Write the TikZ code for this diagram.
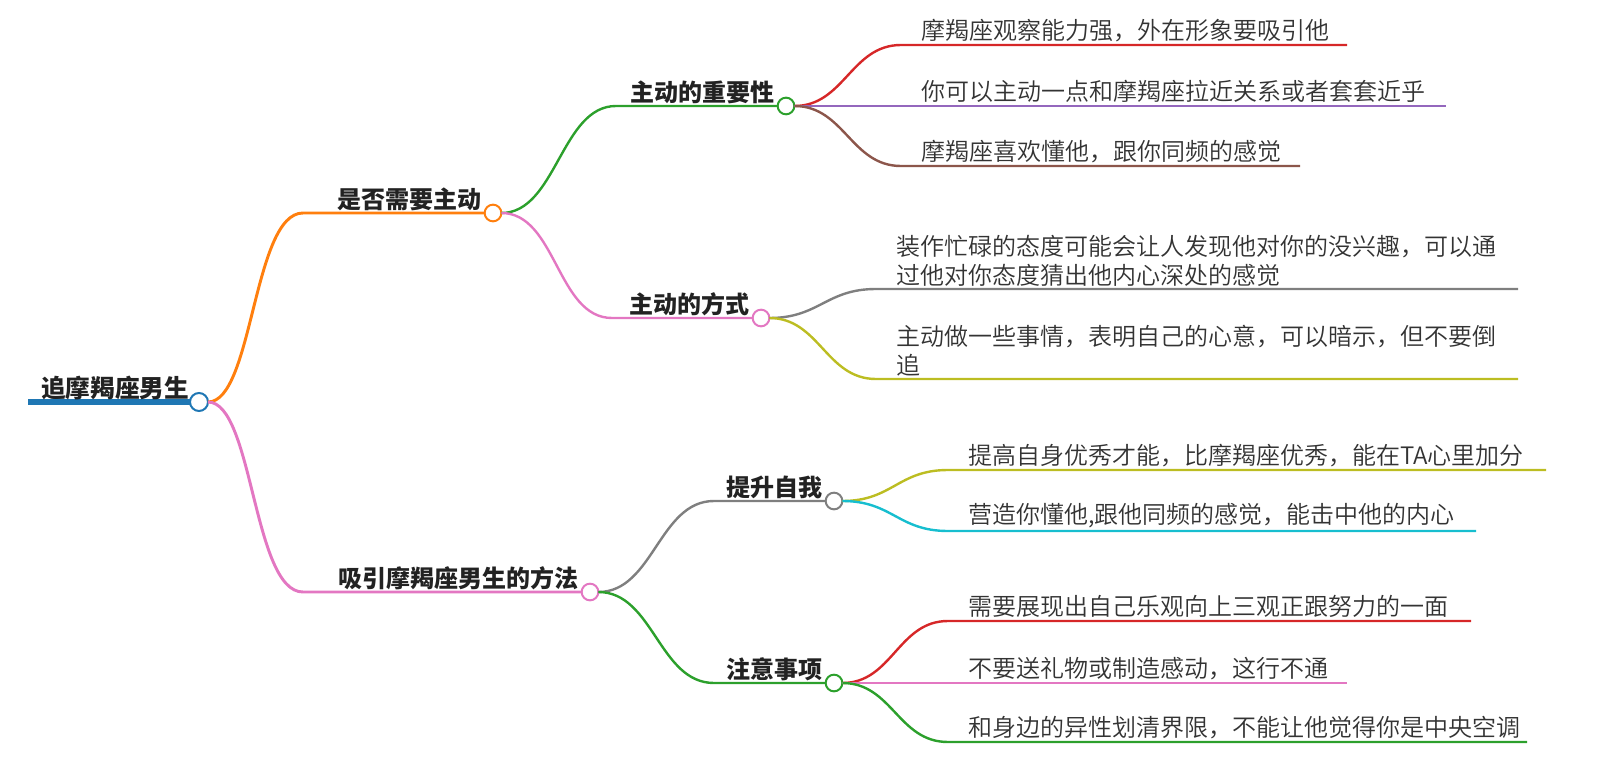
\documentclass[tikz,border=0pt]{standalone}
\usepackage{fontspec}
\setmainfont{Noto Sans CJK SC DemiLight}[BoldFont={Noto Sans CJK SC Black}]
\definecolor{cblue}{HTML}{1F77B4}
\definecolor{corange}{HTML}{FF7F0E}
\definecolor{cgreen}{HTML}{2CA02C}
\definecolor{cred}{HTML}{D62728}
\definecolor{cpurple}{HTML}{9467BD}
\definecolor{cbrown}{HTML}{8C564B}
\definecolor{cpink}{HTML}{E377C2}
\definecolor{cgray}{HTML}{7F7F7F}
\definecolor{colive}{HTML}{BCBD22}
\definecolor{ccyan}{HTML}{17BECF}
\definecolor{ctext}{HTML}{333333}
\definecolor{chead}{HTML}{222222}
\begin{document}
\begin{tikzpicture}[x=0.75pt,y=-0.75pt,
  every node/.style={inner sep=0pt,outer sep=0pt},
  dot/.style={circle,draw=#1,fill=white,line width=1.5pt,minimum size=12.5pt},
  link/.style={draw=#1,line width=1.8pt},
  head/.style={font=\fontsize{18pt}{21.75pt}\selectfont\bfseries,text=chead,anchor=south east},
  leaf/.style={font=\fontsize{18pt}{21.75pt}\selectfont,text=ctext,anchor=south west,align=left}]
\useasboundingbox (0,0) rectangle (1610,763);

% root
\coordinate (s0) at (28,402);
\node[dot=cblue,minimum size=13.5pt] (n0) at (199,402) {};
\draw[link=cblue,line width=4.5pt] (s0) -- (n0.west);
\node[head,font=\fontsize{18.5pt}{21.75pt}\selectfont\bfseries] (t0) at (189,400) {追摩羯座男生};

% level 1
\coordinate (s1) at (303,213);
\node[dot=corange] (n1) at (493,213) {};
\draw[link=corange,line width=2.2pt] (n0.east) .. controls +(45,0) and +(-50,0) .. (s1) -- (n1.west);
\node[head] (t1) at (481,211) {是否需要主动};

\coordinate (s2) at (303,592);
\node[dot=cpink] (n2) at (590,592) {};
\draw[link=cpink,line width=2.2pt] (n0.east) .. controls +(45,0) and +(-50,0) .. (s2) -- (n2.west);
\node[head] (t2) at (578,590) {吸引摩羯座男生的方法};

% level 2
\coordinate (s3) at (616,106);
\node[dot=cgreen] (n3) at (786,106) {};
\draw[link=cgreen] (n1.east) .. controls +(55,0) and +(-55,0) .. (s3) -- (n3.west);
\node[head] (t3) at (774,104) {主动的重要性};

\coordinate (s4) at (612,318);
\node[dot=cpink] (n4) at (761,318) {};
\draw[link=cpink] (n1.east) .. controls +(55,0) and +(-55,0) .. (s4) -- (n4.west);
\node[head] (t4) at (749,316) {主动的方式};

\coordinate (s5) at (714,501);
\node[dot=cgray] (n5) at (834,501) {};
\draw[link=cgray] (n2.east) .. controls +(55,0) and +(-55,0) .. (s5) -- (n5.west);
\node[head] (t5) at (822,499) {提升自我};

\coordinate (s6) at (714,683);
\node[dot=cgreen] (n6) at (834,683) {};
\draw[link=cgreen] (n2.east) .. controls +(55,0) and +(-55,0) .. (s6) -- (n6.west);
\node[head] (t6) at (822,681) {注意事项};

% leaves of n3
\coordinate (a1) at (901,45);  \coordinate (b1) at (1347,45);
\draw[link=cred] (n3.east) .. controls +(50,0) and +(-50,0) .. (a1) -- (b1);
\node[leaf] (l1) at (921,42) {摩羯座观察能力强，外在形象要吸引他};

\coordinate (a2) at (901,106); \coordinate (b2) at (1446,106);
\draw[link=cpurple] (n3.east) .. controls +(50,0) and +(-50,0) .. (a2) -- (b2);
\node[leaf] (l2) at (921,103) {你可以主动一点和摩羯座拉近关系或者套套近乎};

\coordinate (a3) at (901,166); \coordinate (b3) at (1300,166);
\draw[link=cbrown] (n3.east) .. controls +(50,0) and +(-50,0) .. (a3) -- (b3);
\node[leaf] (l3) at (921,163) {摩羯座喜欢懂他，跟你同频的感觉};

% leaves of n4
\coordinate (a4) at (876,289); \coordinate (b4) at (1518,289);
\draw[link=cgray] (n4.east) .. controls +(50,0) and +(-50,0) .. (a4) -- (b4);
\node[leaf,text width=452pt] (l4) at (896,286) {装作忙碌的态度可能会让人发现他对你的没兴趣，可以通\\过他对你态度猜出他内心深处的感觉};

\coordinate (a5) at (876,379); \coordinate (b5) at (1518,379);
\draw[link=colive] (n4.east) .. controls +(50,0) and +(-50,0) .. (a5) -- (b5);
\node[leaf,text width=452pt] (l5) at (896,376) {主动做一些事情，表明自己的心意，可以暗示，但不要倒\\追};

% leaves of n5
\coordinate (a6) at (948,470); \coordinate (b6) at (1546,470);
\draw[link=colive] (n5.east) .. controls +(50,0) and +(-50,0) .. (a6) -- (b6);
\node[leaf] (l6) at (968,467) {提高自身优秀才能，比摩羯座优秀，能在TA心里加分};

\coordinate (a7) at (948,531); \coordinate (b7) at (1476,531);
\draw[link=ccyan] (n5.east) .. controls +(50,0) and +(-50,0) .. (a7) -- (b7);
\node[leaf] (l7) at (968,528) {营造你懂他,跟他同频的感觉，能击中他的内心};

% leaves of n6
\coordinate (a8) at (948,621); \coordinate (b8) at (1471,621);
\draw[link=cred] (n6.east) .. controls +(50,0) and +(-50,0) .. (a8) -- (b8);
\node[leaf] (l8) at (968,618) {需要展现出自己乐观向上三观正跟努力的一面};

\coordinate (a9) at (948,683); \coordinate (b9) at (1347,683);
\draw[link=cpink] (n6.east) .. controls +(50,0) and +(-50,0) .. (a9) -- (b9);
\node[leaf] (l9) at (968,680) {不要送礼物或制造感动，这行不通};

\coordinate (a10) at (948,742); \coordinate (b10) at (1527,742);
\draw[link=cgreen] (n6.east) .. controls +(50,0) and +(-50,0) .. (a10) -- (b10);
\node[leaf] (l10) at (968,739) {和身边的异性划清界限，不能让他觉得你是中央空调};
\end{tikzpicture}
\end{document}
